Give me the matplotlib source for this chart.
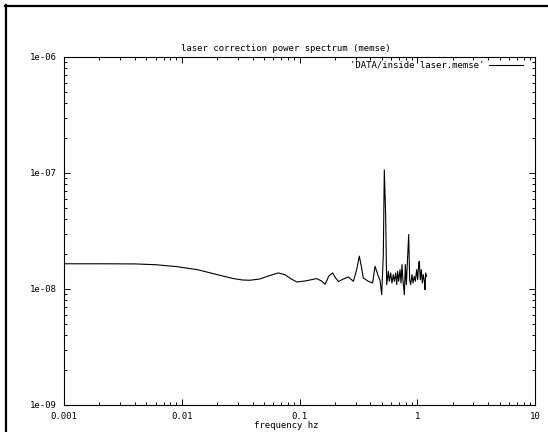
import numpy as np
import matplotlib
matplotlib.use("Agg")
import matplotlib.pyplot as plt
from matplotlib.lines import Line2D
from matplotlib.ticker import FixedLocator, LogLocator, FuncFormatter, NullFormatter

# spectrum (frequency in hz, power)
freq = [0.001, 0.002, 0.004, 0.006, 0.009, 0.0135, 0.02, 0.0274, 0.033, 0.038,
        0.046, 0.055, 0.066, 0.075, 0.085, 0.095, 0.11, 0.125, 0.14, 0.152,
        0.165, 0.178, 0.191, 0.203, 0.214, 0.236, 0.26, 0.287, 0.306, 0.322,
        0.337, 0.348, 0.384, 0.418, 0.438, 0.467, 0.483, 0.499, 0.515, 0.525,
        0.539, 0.550, 0.568, 0.579, 0.595, 0.610, 0.626, 0.639, 0.656, 0.669,
        0.682, 0.696, 0.714, 0.728, 0.742, 0.757, 0.777, 0.792, 0.808, 0.824,
        0.846, 0.862, 0.879, 0.902, 0.920, 0.944, 0.963, 0.989, 1.008, 1.028,
        1.041, 1.062, 1.083, 1.105, 1.126, 1.149, 1.164, 1.179, 1.202]
power = [1.65e-8, 1.65e-8, 1.645e-8, 1.62e-8, 1.56e-8, 1.47e-8, 1.33e-8, 1.23e-8, 1.195e-8, 1.19e-8,
         1.22e-8, 1.30e-8, 1.375e-8, 1.33e-8, 1.22e-8, 1.15e-8, 1.17e-8, 1.20e-8, 1.23e-8, 1.18e-8,
         1.10e-8, 1.30e-8, 1.375e-8, 1.24e-8, 1.16e-8, 1.22e-8, 1.27e-8, 1.165e-8, 1.47e-8, 1.92e-8,
         1.52e-8, 1.245e-8, 1.165e-8, 1.127e-8, 1.57e-8, 1.287e-8, 1.188e-8, 8.93e-9, 1.98e-8, 1.062e-7,
         4.39e-8, 1.09e-8, 1.421e-8, 1.165e-8, 1.375e-8, 1.127e-8, 1.33e-8, 1.165e-8, 1.375e-8, 1.09e-8,
         1.421e-8, 1.165e-8, 1.469e-8, 1.127e-8, 1.623e-8, 1.165e-8, 8.93e-9, 1.623e-8, 1.09e-8, 1.678e-8,
         2.949e-8, 1.204e-8, 1.09e-8, 1.33e-8, 1.127e-8, 1.287e-8, 1.165e-8, 1.469e-8, 1.204e-8, 1.623e-8,
         1.735e-8, 1.204e-8, 1.469e-8, 1.127e-8, 1.33e-8, 1.165e-8, 9.87e-9, 1.375e-8, 1.287e-8]

xticks = [0.001, 0.01, 0.1, 1, 10]
yticks = [1e-9, 1e-8, 1e-7, 1e-6]

title = "laser correction power spectrum (memse)"
xlab = "frequency hz"
series_name = "'DATA/inside laser.memse'"

W, H = 548, 432
fig = plt.figure(figsize=(W / 100, H / 100), dpi=100)
mono = "DejaVu Sans Mono"
fs = 6.5

# axes box in pixels: left 64, right 535, top 57, bottom 405
ax = fig.add_axes([64 / W, 1 - 405 / H, (535 - 64) / W, (405 - 57) / H])
ax.plot(freq, power, color="black", linewidth=0.8)
ax.set_xscale("log")
ax.set_yscale("log")
ax.set_xlim(0.001, 10)
ax.set_ylim(1e-9, 1e-6)

ax.xaxis.set_major_locator(FixedLocator(xticks))
ax.yaxis.set_major_locator(FixedLocator(yticks))
ax.xaxis.set_minor_locator(LogLocator(base=10, subs=np.arange(2, 10), numticks=20))
ax.yaxis.set_minor_locator(LogLocator(base=10, subs=np.arange(2, 10), numticks=20))
ax.xaxis.set_major_formatter(FuncFormatter(lambda v, p: "%g" % v))
ax.yaxis.set_major_formatter(FuncFormatter(lambda v, p: "%.0e" % v))
ax.xaxis.set_minor_formatter(NullFormatter())
ax.yaxis.set_minor_formatter(NullFormatter())

ax.tick_params(which="both", direction="in", top=True, right=True, width=0.7, colors="black")
ax.tick_params(which="major", length=4, pad=5)
ax.tick_params(which="minor", length=2.2)
for lbl in ax.get_xticklabels() + ax.get_yticklabels():
    lbl.set_fontfamily(mono)
    lbl.set_fontsize(fs)
for s in ax.spines.values():
    s.set_linewidth(0.8)

# legend, gnuplot style: text then sample line, top right inside box
ax.text(484 / W, 1 - 64.5 / H, series_name, transform=fig.transFigure,
        ha="right", va="center", family=mono, fontsize=fs)
fig.add_artist(Line2D([489 / W, 523 / W], [1 - 64.5 / H, 1 - 64.5 / H],
                      color="black", linewidth=0.8, transform=fig.transFigure))

fig.text(286 / W, 1 - 48.5 / H, title, ha="center", va="center", family=mono, fontsize=fs)
fig.text(286 / W, 1 - 425.5 / H, xlab, ha="center", va="center", family=mono, fontsize=fs)

# black frame bars at top and left edge
fig.add_artist(Line2D([5 / W, 1], [1 - 5.8 / H, 1 - 5.8 / H], color="black",
                      linewidth=1.6, transform=fig.transFigure))
fig.add_artist(Line2D([6.3 / W, 6.3 / W], [0, 1 - 5 / H], color="black",
                      linewidth=1.6, transform=fig.transFigure))

fig.savefig("out.png", dpi=100)
